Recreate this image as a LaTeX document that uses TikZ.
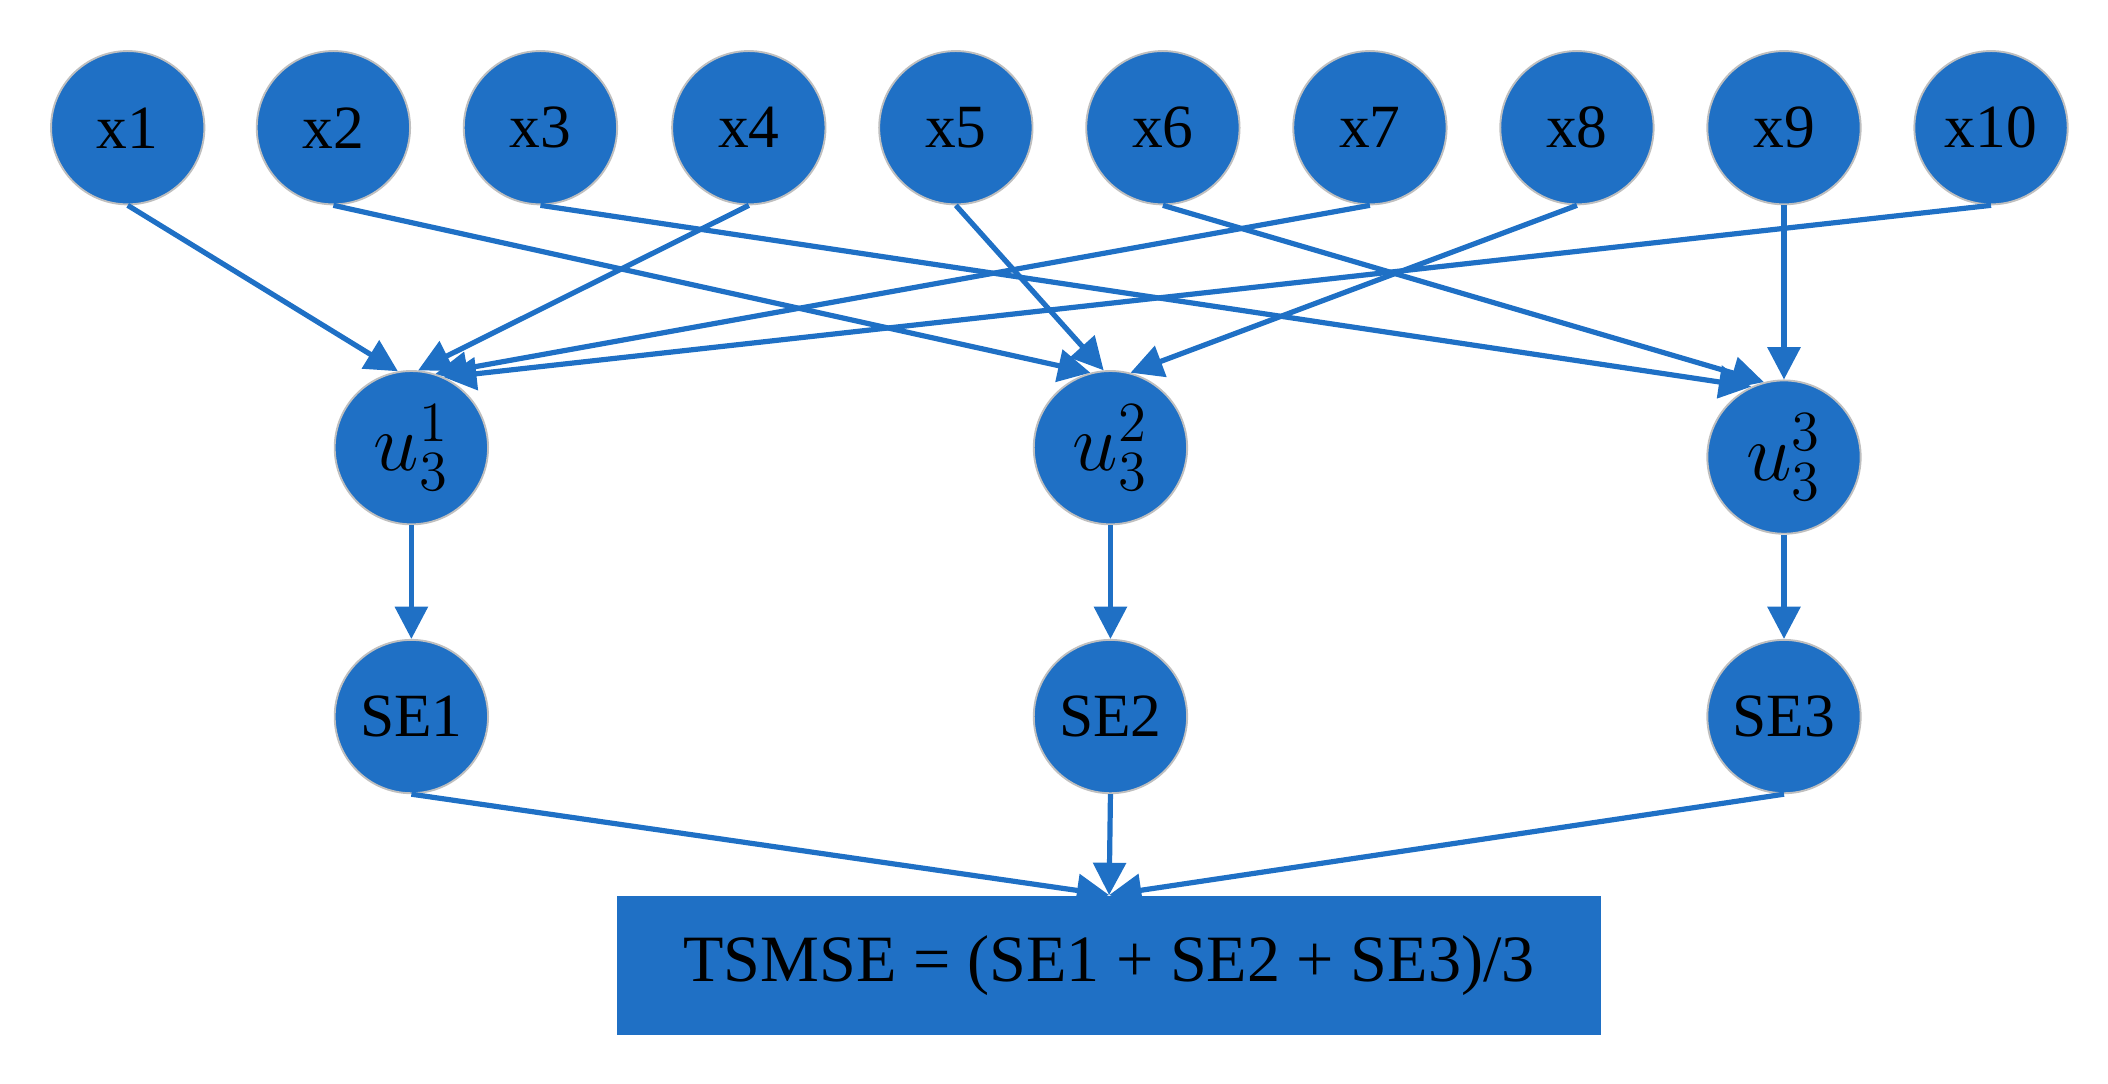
\documentclass[tikz,border=0pt]{standalone}
\usepackage{fontspec}
\setmainfont{Liberation Serif}
\usetikzlibrary{arrows.meta}
\definecolor{netblue}{RGB}{31,112,197}
\begin{document}
\begin{tikzpicture}[x=0.01cm,y=-0.01cm]
    %
    % `unit' is used for every round node, `total' for the bottom box.
    \tikzset{unit/.style={circle,draw=black!25,fill=netblue,line width=0.4pt,
        minimum size=1.14cm,inner sep=0pt,font=\fontsize{13}{15}\selectfont}}
    \tikzset{total/.style={draw=none,fill=netblue,minimum width=7.32cm,
        minimum height=1.03cm,font=\fontsize{14}{16}\selectfont}}
    \tikzset{link/.style={draw=netblue,line width=1.1pt,
        -{Triangle[length=0.24cm,width=0.24cm]}}}
    \useasboundingbox (0,0) rectangle (1568,806);
    %
    % Inputs
    \foreach \i/\px in {1/95,2/248,3/402,4/557,5/711,6/865,7/1019,8/1173,9/1327,10/1481}
        \node[unit] (x\i) at (\px,95) {x\i};
    %
    % Hidden units
    \node[unit] (u1) at (306,333) {\fontsize{18}{18}\selectfont$u_3^1$};
    \node[unit] (u2) at (826,333) {\fontsize{18}{18}\selectfont$u_3^2$};
    \node[unit] (u3) at (1327,340) {\fontsize{18}{18}\selectfont$u_3^3$};
    %
    % Errors
    \node[unit] (se1) at (306,533) {SE1};
    \node[unit] (se2) at (826,533) {SE2};
    \node[unit] (se3) at (1327,533) {SE3};
    %
    % Result
    \node[total] (tsmse) at (825,718) {TSMSE = (SE1 + SE2 + SE3)/3};
    %
    % Links
    \draw[link] (x1.south) -- (u1.100);
    \draw[link] (x4.south) -- (u1.85);
    \draw[link] (x7.south) -- (u1.72);
    \draw[link] (x10.south) -- (u1.65);
    \draw[link] (x2.south) -- (u2.105);
    \draw[link] (x5.south) -- (u2.95);
    \draw[link] (x8.south) -- (u2.75);
    \draw[link] (x3.south) -- (u3.115);
    \draw[link] (x6.south) -- (u3.105);
    \draw[link] (x9.south) -- (u3.north);
    %
    \foreach \k in {1,2,3} {
        \draw[link] (u\k.south) -- (se\k.north);
        \draw[link] (se\k.south) -- (tsmse.north);
    }
\end{tikzpicture}
\end{document}
